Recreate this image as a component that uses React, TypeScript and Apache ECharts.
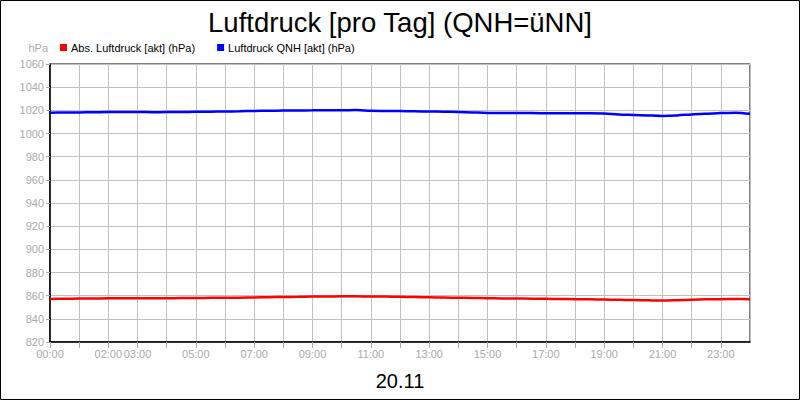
import React, { useEffect, useRef } from 'react';
import * as echarts from 'echarts';

const hours = [
  0, 0.5, 1, 1.5, 2, 2.5, 3, 3.5, 4, 4.5, 5, 5.5, 6, 6.5, 7, 7.5, 8, 8.5, 9, 9.5, 10, 10.5, 11, 11.5,
  12, 12.5, 13, 13.5, 14, 14.5, 15, 15.5, 16, 16.5, 17, 17.5, 18, 18.5, 19, 19.5, 20, 20.5, 21, 21.5,
  22, 22.5, 23, 23.5, 24,
];

const qnh = [
  1018.0, 1018.1, 1018.2, 1018.3, 1018.5, 1018.5, 1018.6, 1018.4, 1018.5, 1018.6, 1018.7, 1018.8,
  1019.0, 1019.2, 1019.5, 1019.6, 1019.8, 1019.9, 1020.0, 1020.1, 1020.0, 1020.2, 1019.6, 1019.5,
  1019.4, 1019.2, 1019.0, 1018.8, 1018.6, 1018.2, 1017.8, 1017.7, 1017.6, 1017.7, 1017.5, 1017.4,
  1017.4, 1017.5, 1017.2, 1016.4, 1016.0, 1015.6, 1015.2, 1015.6, 1016.5, 1017.1, 1017.6, 1018.0,
  1017.0,
];

const absolut = [
  857.2, 857.3, 857.5, 857.6, 857.7, 857.7, 857.8, 857.7, 857.8, 857.9, 858.0, 858.1,
  858.2, 858.3, 858.5, 858.7, 858.9, 859.0, 859.2, 859.3, 859.4, 859.4, 859.3, 859.2,
  859.0, 858.8, 858.6, 858.4, 858.2, 858.0, 857.8, 857.6, 857.5, 857.4, 857.3, 857.1,
  857.0, 856.8, 856.6, 856.4, 856.2, 856.0, 855.8, 856.1, 856.5, 856.8, 857.0, 857.1,
  857.0,
];

const xLabels: Record<number, string> = {
  0: '00:00', 2: '02:00', 3: '03:00', 5: '05:00', 7: '07:00', 9: '09:00', 11: '11:00',
  13: '13:00', 15: '15:00', 17: '17:00', 19: '19:00', 21: '21:00', 23: '23:00',
};

const FONT = '"Liberation Sans", Arial, sans-serif';

export default function App() {
  const ref = useRef<HTMLDivElement>(null);

  useEffect(() => {
    if (!ref.current) return;
    const chart = echarts.init(ref.current, null, { renderer: 'svg' });

    chart.setOption({
      animation: false,
      backgroundColor: '#fff',
      textStyle: { fontFamily: FONT },
      title: [
        {
          text: 'Luftdruck [pro Tag] (QNH=üNN]',
          left: 'center',
          top: 3,
          textStyle: { fontSize: 27.5, fontWeight: 'normal', color: '#000', fontFamily: FONT },
        },
        {
          text: '20.11',
          left: 'center',
          top: 366,
          textStyle: { fontSize: 20, fontWeight: 'normal', color: '#000', fontFamily: FONT },
        },
      ],
      legend: {
        left: 55,
        top: 37,
        icon: 'rect',
        itemWidth: 7,
        itemHeight: 7,
        itemGap: 22,
        textStyle: { fontSize: 11, color: '#000', fontFamily: FONT, padding: [0, 0, 0, -1] },
        data: ['Abs. Luftdruck [akt] (hPa)', 'Luftdruck QNH [akt] (hPa)'],
      },
      graphic: [
        {
          type: 'rect',
          shape: { x: 0.5, y: 0.5, width: 799, height: 399 },
          style: { fill: 'none', stroke: '#000', lineWidth: 1 },
        },
        {
          type: 'text',
          x: 48,
          y: 42,
          style: { text: 'hPa', fill: '#aaa', fontSize: 11, fontFamily: FONT, textAlign: 'right' },
        },
      ],
      grid: {
        left: 50,
        right: 50,
        top: 64,
        bottom: 58,
        show: true,
        borderColor: '#000',
        borderWidth: 1,
      },
      xAxis: {
        type: 'value',
        min: 0,
        max: 24,
        interval: 1,
        axisLine: { show: true, lineStyle: { color: '#000', width: 1.5 } },
        axisTick: { show: true, length: 6, lineStyle: { color: '#aaa' } },
        axisLabel: {
          color: '#aaa',
          fontSize: 11,
          margin: 6,
          fontFamily: FONT,
          showMaxLabel: false,
          formatter: (v: number) => xLabels[v] ?? '',
        },
        splitLine: { show: true, lineStyle: { color: '#c0c0c0' } },
      },
      yAxis: {
        type: 'value',
        min: 820,
        max: 1060,
        interval: 20,
        axisLine: { show: true, lineStyle: { color: '#000', width: 1.5 } },
        axisTick: { show: true, length: 4, lineStyle: { color: '#aaa' } },
        axisLabel: {
          color: '#aaa',
          fontSize: 11,
          margin: 6,
          fontFamily: FONT,
          formatter: (v: number) => String(v),
        },
        splitLine: { show: true, lineStyle: { color: '#c0c0c0' } },
      },
      series: [
        {
          name: 'Abs. Luftdruck [akt] (hPa)',
          type: 'line',
          data: hours.map((h, i) => [h, absolut[i]]),
          showSymbol: false,
          smooth: 0.3,
          itemStyle: { color: '#ff0000', borderColor: '#600' },
          lineStyle: { color: '#ff0000', width: 2.5 },
        },
        {
          name: 'Luftdruck QNH [akt] (hPa)',
          type: 'line',
          data: hours.map((h, i) => [h, qnh[i]]),
          showSymbol: false,
          smooth: 0.3,
          itemStyle: { color: '#0000ff', borderColor: '#006' },
          lineStyle: { color: '#0000ff', width: 2.5 },
        },
      ],
    });

    return () => chart.dispose();
  }, []);

  return (
    <div
      ref={ref}
      style={{ position: 'fixed', left: 0, top: 0, width: 800, height: 400 }}
    />
  );
}
